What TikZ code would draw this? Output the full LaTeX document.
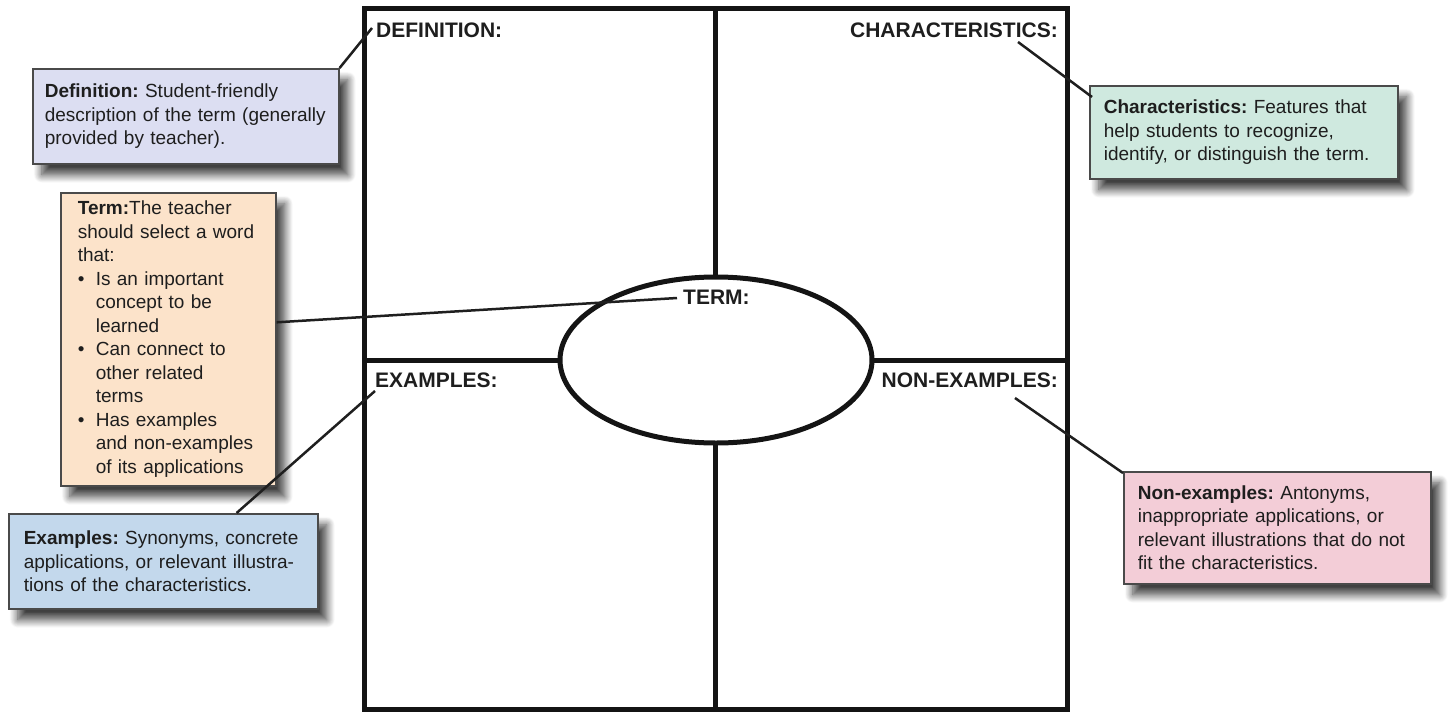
\documentclass[tikz,border=0pt]{standalone}
\usepackage{fontspec}
\setmainfont{Liberation Sans}
\usetikzlibrary{shadows.blur,shapes.geometric}
\definecolor{defcol}{HTML}{DCDEF2}
\definecolor{charcol}{HTML}{CFE9DF}
\definecolor{termcol}{HTML}{FCE3CA}
\definecolor{excol}{HTML}{C3D8EC}
\definecolor{noncol}{HTML}{F3CDD7}
\definecolor{boxborder}{HTML}{4A4A4A}
\definecolor{txt}{HTML}{1E1E1E}
\newcommand\bulitem{\makebox[18pt][l]{•}}
\newcommand\bulind{\hspace*{18pt}}
\frenchspacing
\hyphenpenalty=10000
\begin{document}
\begin{tikzpicture}[x=1pt,y=-1pt,
  note/.style={draw=boxborder, line width=1.6pt, anchor=north west, inner xsep=14pt, inner ysep=3pt,
    align=left, font=\fontsize{19}{23.5}\selectfont, text=txt,
    blur shadow={shadow xshift=9pt, shadow yshift=-11pt, shadow blur radius=8pt, shadow blur steps=12, shadow opacity=75}},
  quad/.style={font=\fontsize{21}{24}\selectfont\bfseries, inner sep=0pt, text=txt},
  gridline/.style={line width=5pt, draw=black!92},
  link/.style={line width=2.5pt, draw=black!88}]

\useasboundingbox (0,0) rectangle (1450,712);

% grid
\draw[gridline] (364,8) rectangle (1067,709);
\draw[gridline] (715,8) -- (715,709);
\draw[gridline] (364,360) -- (1067,360);
\node[draw=black!92, line width=5pt, fill=white, ellipse, minimum width=312pt, minimum height=166pt, inner sep=0pt] (oval) at (716,360) {};

% quadrant labels
\node[quad, anchor=west] (deflab) at (376,30) {DEFINITION:};
\node[quad, anchor=east] (charlab) at (1058,30) {CHARACTERISTICS:};
\node[quad, anchor=west] (termlab) at (683,297) {TERM:};
\node[quad, anchor=west] (exlab) at (375,380) {EXAMPLES:};
\node[quad, anchor=east] (nonlab) at (1058,380) {NON-EXAMPLES:};

\coordinate (defpt) at (372,28);
\coordinate (charpt) at (1018,42);
\coordinate (termpt) at (677,298);
\coordinate (expt) at (375,391);
\coordinate (nonpt) at (1015,398);

% callout boxes
\node[note, fill=defcol, inner xsep=12pt, text width=282pt, minimum height=95pt] (def) at (32,68)
  {\textbf{Definition:} Student-friendly\\description of the term (generally\\provided by teacher).};
\node[note, fill=charcol, text width=280pt, minimum height=93pt] (char) at (1089,85)
  {\textbf{Characteristics:} Features that\\help students to recognize,\\identify, or distinguish the term.};
\node[note, fill=termcol, inner xsep=17pt, text width=181pt, minimum height=293pt] (term) at (60,192)
  {\textbf{Term:}The teacher\\should select a word\\that:\\
   \bulitem Is an important\\\bulind concept to be\\\bulind learned\\
   \bulitem Can connect to\\\bulind other related\\\bulind terms\\
   \bulitem Has examples\\\bulind and non-examples\\\bulind of its applications};
\node[note, fill=excol, inner xsep=15pt, text width=279pt, minimum height=95pt] (ex) at (8,513)
  {\textbf{Examples:} Synonyms, concrete\\applications, or relevant illustra-\\tions of the characteristics.};
\node[note, fill=noncol, text width=279pt, minimum height=112pt] (non) at (1123,471)
  {\textbf{Non-examples:} Antonyms,\\inappropriate applications, or\\relevant illustrations that do not\\fit the characteristics.};

% connectors
\draw[link] (def.north east) -- (defpt);
\draw[link] ([xshift=3pt,yshift=-12pt]char.north west) -- (charpt);
\draw[link] ([yshift=17pt]term.east) -- (termpt);
\draw[link] ([xshift=-82pt]ex.north east) -- (expt);
\draw[link] ([yshift=-2pt]non.north west) -- (nonpt);
\end{tikzpicture}
\end{document}
